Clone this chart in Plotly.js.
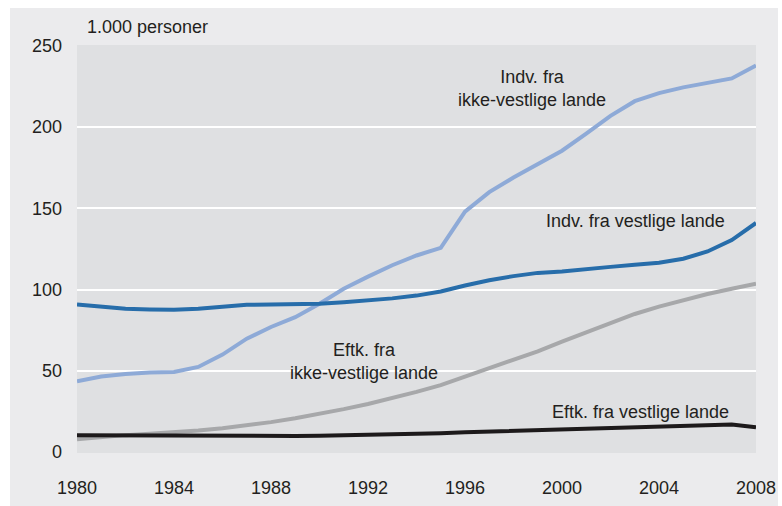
<!DOCTYPE html>
<html>
<head>
<meta charset="utf-8">
<script src="https://cdn.plot.ly/plotly-3.0.1.min.js"></script>
<style>
html,body{margin:0;padding:0;background:#ffffff;width:782px;height:506px;overflow:hidden;}
#chart{position:absolute;left:10px;top:8px;width:768px;height:498px;}
</style>
</head>
<body>
<div id="chart"></div>
<script>
const years = [1980,1981,1982,1983,1984,1985,1986,1987,1988,1989,1990,1991,1992,1993,1994,1995,1996,1997,1998,1999,2000,2001,2002,2003,2004,2005,2006,2007,2008];
const indvIkkeVestlige = [43.6,46.5,48,49,49.3,52.4,60,69.8,77,83,91.3,100.5,108,115,121,125.7,148,160,169,177,185.5,196,207,216,221,224.5,227,230,238];
const indvVestlige = [90.9,89.8,88.2,87.8,87.6,88.2,89.3,90.6,90.9,90.8,91.3,92.2,93.3,94.6,96.3,98.8,102.5,105.8,108.3,110.3,111.2,112.8,114,115.3,116.5,119,123.5,130.5,141];
const eftkIkkeVestlige = [7.8,9.2,10.4,11.2,12.1,13.2,14.6,16.2,18.4,20.8,23.4,26.4,29.6,33.2,37,41.2,46.5,51.5,56.5,62,68,73.5,79.5,85,89.5,93.5,97.3,100.5,103.6];
const eftkVestlige = [10.4,10.3,10.2,10.1,10,10,9.9,9.9,9.8,9.9,10,10.2,10.5,10.8,11.2,11.6,12.1,12.5,12.9,13.3,13.7,14,14.4,14.8,15.3,15.8,16.4,17,15.2];
const yTicks = [0,50,100,150,200,250];
const xTicks = [1980,1984,1988,1992,1996,2000,2004,2008];

const FONT = '"Liberation Sans Narrow", "Liberation Sans", Arial, sans-serif';
const TXT = '#231f20';

function line(y, color, name){
  return {x: years, y: y, type:'scatter', mode:'lines', name:name,
    line:{color:color, width:4, shape:'linear'}, hoverinfo:'skip', cliponaxis:false};
}

const data = [
  line(eftkIkkeVestlige, '#a7a8aa', 'Eftk. fra ikke-vestlige lande'),
  line(eftkVestlige, '#1d1a1b', 'Eftk. fra vestlige lande'),
  line(indvIkkeVestlige, '#8eaad7', 'Indv. fra ikke-vestlige lande'),
  line(indvVestlige, '#276daa', 'Indv. fra vestlige lande')
];

function ann(x, y, text, anchor){
  return {x:x, y:y, xref:'x', yref:'y', text:text, showarrow:false,
    xanchor:anchor||'center', yanchor:'middle', align:'center',
    font:{family:FONT, size:18, color:TXT}};
}

const layout = {
  width:768, height:498,
  margin:{l:67, r:22, t:37, b:53, pad:0},
  paper_bgcolor:'#ebebed',
  plot_bgcolor:'#dfe0e2',
  showlegend:false,
  font:{family:FONT, size:18, color:TXT},
  xaxis:{range:[1980,2008], tickmode:'array', tickvals:xTicks, ticktext:xTicks.map(String),
    showgrid:false, zeroline:false, showline:false, ticks:'', ticklabelstandoff:22,
    tickfont:{family:FONT, size:18, color:TXT}, fixedrange:true},
  yaxis:{range:[-0.6,250.6], tickmode:'array', tickvals:yTicks, ticktext:yTicks.map(String),
    showgrid:true, gridcolor:'#ffffff', gridwidth:2, zeroline:false, showline:false, ticks:'',
    ticklabelstandoff:14, tickfont:{family:FONT, size:18, color:TXT}, fixedrange:true},
  annotations:[
    {x:1980.33, y:1.044, xref:'x', yref:'paper', text:'1.000 personer', showarrow:false,
      xanchor:'left', yanchor:'middle', font:{family:FONT, size:18, color:TXT}},
    ann(1998.75, 224, 'Indv. fra<br>ikke-vestlige lande'),
    ann(2003.03, 142.5, 'Indv. fra vestlige lande'),
    ann(1991.83, 56, 'Eftk. fra<br>ikke-vestlige lande'),
    ann(2003.24, 24.8, 'Eftk. fra vestlige lande')
  ]
};

Plotly.newPlot('chart', data, layout, {displayModeBar:false, staticPlot:true});
</script>
</body>
</html>
